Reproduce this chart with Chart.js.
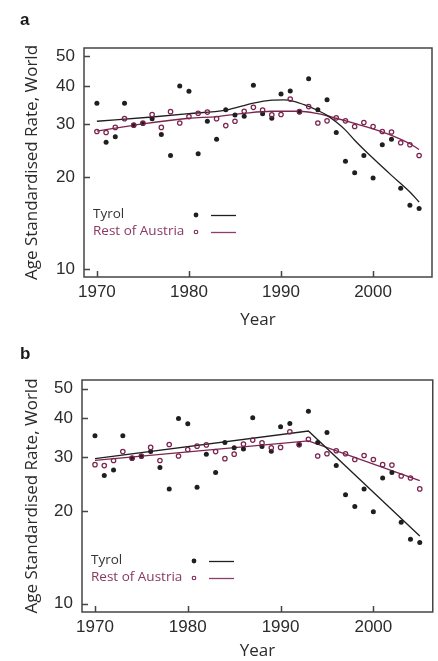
<!DOCTYPE html>
<html>
<head>
<meta charset="utf-8">
<script src="https://cdn.jsdelivr.net/npm/chart.js@4.4.1/dist/chart.umd.min.js"></script>
<style>
  html, body { margin: 0; padding: 0; background: #fff; }
  .panel { position: relative; width: 438px; }
  #panelA { height: 330px; }
  #panelB { height: 331px; }
</style>
</head>
<body>
<div class="panel" id="panelA"><canvas id="chartA"></canvas></div>
<div class="panel" id="panelB"><canvas id="chartB"></canvas></div>
<script>
// dados
const anos = [1970, 1971, 1972, 1973, 1974, 1975, 1976, 1977, 1978, 1979,
  1980, 1981, 1982, 1983, 1984, 1985, 1986, 1987, 1988, 1989,
  1990, 1991, 1992, 1993, 1994, 1995, 1996, 1997, 1998, 1999,
  2000, 2001, 2002, 2003, 2004, 2005];

const tyrol = [35.1, 26.1, 27.2, 35.1, 29.7, 30.1, 31.2, 27.7, 23.6, 40.0,
  38.4, 23.9, 30.6, 26.7, 33.4, 32.1, 31.8, 40.2, 32.4, 31.3,
  37.6, 38.5, 32.8, 42.2, 33.4, 36.0, 28.1, 22.6, 20.7, 23.6,
  19.9, 25.6, 26.7, 18.4, 16.2, 15.8];

const restoAustria = [28.3, 28.1, 29.2, 31.2, 29.7, 30.2, 32.2, 29.2, 32.9, 30.2,
  31.7, 32.5, 32.8, 31.2, 29.6, 30.6, 33.0, 34.0, 33.3, 32.1,
  32.2, 36.2, 32.9, 34.2, 30.2, 30.7, 31.4, 30.7, 29.4, 30.3,
  29.4, 28.3, 28.2, 26.0, 25.6, 23.6];

// curvas suavizadas (painel a)
const curvaTyrolAnos = [1970, 1976, 1980, 1984, 1987, 1989, 1990.3, 1991.4, 1992.5, 1994, 1995, 1996, 1997, 1998, 1999, 2000, 2002, 2004, 2005];
const curvaTyrolValores = [30.6, 31.6, 32.4, 33.3, 35.1, 35.9, 36.0, 35.6, 34.7, 33.2, 32.0, 30.4, 28.6, 26.5, 24.7, 23.1, 20.3, 17.9, 16.6];

const curvaRestoAnos = [1970, 1975, 1980, 1983, 1986, 1989, 1992, 1994, 1995, 1996, 1998, 2000, 2002, 2004, 2005];
const curvaRestoValores = [28.4, 30.0, 31.3, 31.7, 32.5, 33.0, 33.0, 32.4, 31.9, 31.3, 30.1, 28.9, 27.5, 25.8, 24.7];

// segmentos (painel b)
const segTyrolAnos = [1970, 1993, 2005];
const segTyrolValores = [29.6, 36.4, 16.6];
const segRestoAnos = [1970, 1993, 2005];
const segRestoValores = [29.2, 33.8, 25.1];

const ticksY = [10, 20, 30, 40, 50];
const ticksX = [1970, 1980, 1990, 2000];

const COR_TYROL = "#1f1f1f";
const COR_RESTO = "#7b2450";
const COR_TEXTO_RESTO = "#8a3963";

function pares(xs, ys) {
  return xs.map((x, i) => ({ x, y: ys[i] }));
}

const extrasPlugin = {
  id: "extras",
  afterDraw(chart, args, opts) {
    const { ctx, chartArea: ca, scales } = chart;
    ctx.save();

    // moldura
    ctx.strokeStyle = "#454545";
    ctx.lineWidth = 1.5;
    ctx.strokeRect(ca.left, ca.top, ca.right - ca.left, ca.bottom - ca.top);

    // ticks para dentro
    ctx.beginPath();
    scales.y.ticks.forEach((t) => {
      const y = Math.round(scales.y.getPixelForValue(t.value)) + 0.5;
      ctx.moveTo(ca.left, y);
      ctx.lineTo(ca.left + 6, y);
    });
    scales.x.ticks.forEach((t) => {
      const x = Math.round(scales.x.getPixelForValue(t.value)) + 0.5;
      ctx.moveTo(x, ca.bottom);
      ctx.lineTo(x, ca.bottom - 6);
    });
    ctx.stroke();

    // letra do painel
    ctx.fillStyle = "#1a1a1a";
    ctx.font = "bold 17px 'Liberation Sans'";
    ctx.textBaseline = "alphabetic";
    ctx.textAlign = "left";
    ctx.fillText(opts.letra, 20, opts.letraY);

    // legenda
    const itens = [
      { texto: "Tyrol", cor: "#333", linha: COR_TYROL, cheio: true },
      { texto: "Rest of Austria", cor: COR_TEXTO_RESTO, linha: "#8a4068", cheio: false },
    ];
    ctx.font = "13.5px 'Open Sans'";
    itens.forEach((item, i) => {
      const y = ca.bottom - opts.legendaOffset[i];
      ctx.fillStyle = item.cor;
      ctx.fillText(item.texto, ca.left + 9, y + 2.5);

      ctx.beginPath();
      ctx.arc(ca.left + 112, y, item.cheio ? 2.4 : 1.8, 0, Math.PI * 2);
      if (item.cheio) {
        ctx.fillStyle = COR_TYROL;
        ctx.fill();
      } else {
        ctx.strokeStyle = COR_RESTO;
        ctx.lineWidth = 1.1;
        ctx.stroke();
      }

      ctx.beginPath();
      ctx.strokeStyle = item.linha;
      ctx.lineWidth = 1.3;
      ctx.moveTo(ca.left + 127, y + 0.5);
      ctx.lineTo(ca.left + 152, y + 0.5);
      ctx.stroke();
    });

    ctx.restore();
  },
};

function criarPainel(canvasId, linhaTyrol, linhaResto, suave, cfg) {
  const ctx = document.getElementById(canvasId).getContext("2d");

  const linhaBase = {
    type: "line",
    pointRadius: 0,
    borderWidth: 1.3,
    fill: false,
    order: 2,
  };
  if (suave) {
    linhaBase.cubicInterpolationMode = "monotone";
  } else {
    linhaBase.tension = 0;
  }

  return new Chart(ctx, {
    type: "scatter",
    data: {
      datasets: [
        {
          label: "Tyrol",
          data: pares(anos, tyrol),
          pointRadius: 2.5,
          pointBackgroundColor: COR_TYROL,
          pointBorderWidth: 0,
          order: 1,
        },
        {
          label: "Rest of Austria",
          data: pares(anos, restoAustria),
          pointRadius: 2.2,
          pointBackgroundColor: "rgba(255,255,255,0)",
          pointBorderColor: COR_RESTO,
          pointBorderWidth: 1.25,
          order: 0,
        },
        { ...linhaBase, label: "Tyrol fit", data: linhaTyrol, borderColor: COR_TYROL },
        { ...linhaBase, label: "Rest fit", data: linhaResto, borderColor: COR_RESTO },
      ],
    },
    options: {
      responsive: true,
      maintainAspectRatio: false,
      animation: false,
      events: [],
      layout: {
        padding: { top: cfg.top, right: cfg.right, left: 0, bottom: 0 },
      },
      plugins: {
        legend: { display: false },
        tooltip: { enabled: false },
        extras: { letra: cfg.letra, letraY: cfg.letraY, legendaOffset: cfg.legendaOffset },
      },
      scales: {
        x: {
          type: "linear",
          min: 1968.6,
          max: 2006.4,
          afterBuildTicks: (s) => { s.ticks = ticksX.map((v) => ({ value: v })); },
          afterFit: (s) => { s.height = cfg.alturaX; },
          ticks: {
            color: "#2b2b2b",
            font: { family: "'Liberation Sans'", size: 17 },
            padding: 5,
            callback: (v) => String(v),
          },
          grid: { display: false, drawTicks: false },
          border: { display: false },
          title: {
            display: true,
            text: "Year",
            color: "#2b2b2b",
            font: { family: "'Open Sans'", size: 17 },
            padding: { top: 0, bottom: cfg.tituloXBaixo },
          },
        },
        y: {
          type: "logarithmic",
          min: 9.4,
          max: 53.3,
          afterBuildTicks: (s) => { s.ticks = ticksY.map((v) => ({ value: v })); },
          afterFit: (s) => { s.width = cfg.larguraY; },
          ticks: {
            color: "#2b2b2b",
            font: { family: "'Liberation Sans'", size: 17 },
            padding: 9,
            callback: (v) => String(v),
          },
          grid: { display: false, drawTicks: false },
          border: { display: false },
          title: {
            display: true,
            text: "Age Standardised Rate, World",
            color: "#2b2b2b",
            font: { family: "'Open Sans'", size: 17 },
            padding: { top: 22, bottom: 0 },
          },
        },
      },
    },
    plugins: [extrasPlugin],
  });
}

criarPainel(
  "chartA",
  pares(curvaTyrolAnos, curvaTyrolValores),
  pares(curvaRestoAnos, curvaRestoValores),
  true,
  { letra: "a", letraY: 25, top: 48, right: 6, larguraY: 84, alturaX: 53, tituloXBaixo: 0, legendaOffset: [62, 45] }
);

criarPainel(
  "chartB",
  pares(segTyrolAnos, segTyrolValores),
  pares(segRestoAnos, segRestoValores),
  false,
  { letra: "b", letraY: 29, top: 50, right: 5, larguraY: 82, alturaX: 49, tituloXBaixo: 0, legendaOffset: [51, 34] }
);
</script>
</body>
</html>
